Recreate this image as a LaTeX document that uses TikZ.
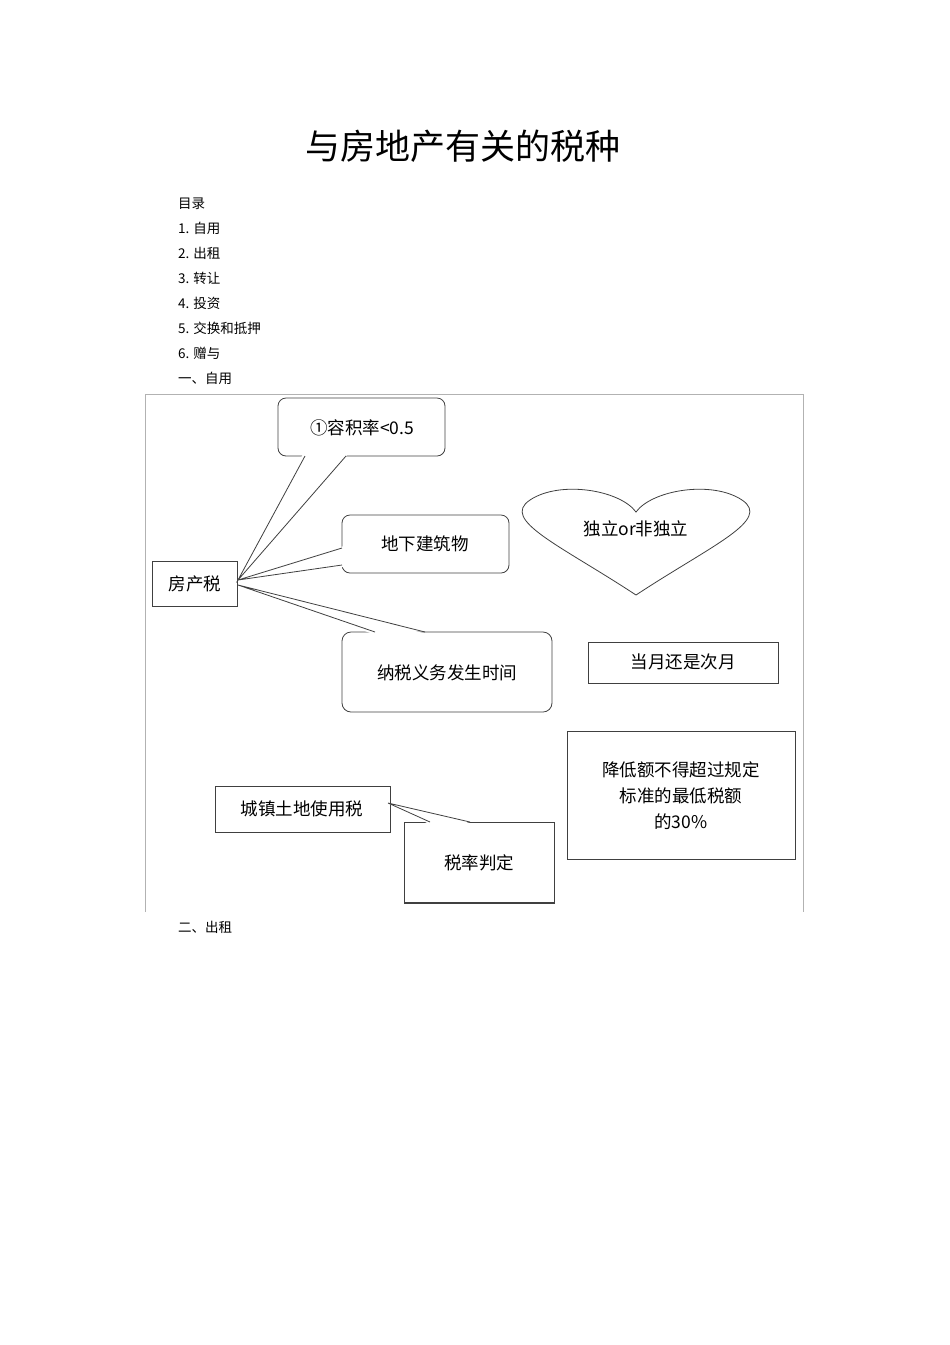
\documentclass[tikz,border=0pt]{standalone}
\usepackage{fontspec}
\setmainfont{Noto Sans CJK SC}
\begin{document}
\begin{tikzpicture}[x=1pt,y=-1pt,
  every node/.style={inner sep=0pt},
  lst/.style={anchor=west,font=\fontsize{13.5}{15}\selectfont},
  dt/.style={font=\fontsize{17.5}{20}\selectfont},
  ln/.style={draw=black!75,line width=0.8pt}]
\useasboundingbox (0,0) rectangle (950,1345);
\node (title) at (463,146) {\fontsize{35}{40}\selectfont 与房地产有关的税种};
\node[lst] (t0) at (178,204) {目录};
\node[lst] (t1) at (178,228) {1. 自用};
\node[lst] (t2) at (178,253) {2. 出租};
\node[lst] (t3) at (178,278) {3. 转让};
\node[lst] (t4) at (178,303) {4. 投资};
\node[lst] (t5) at (178,328) {5. 交换和抵押};
\node[lst] (t6) at (178,353) {6. 赠与};
\node[lst] (t7) at (178,378) {一、自用};
\node[lst] (t8) at (178,927) {二、出租};
% frame
\draw[black!30,line width=0.6pt] (145,912) -- (145,394) -- (803,394) -- (803,912);
% 房产税
\draw[ln] (152,561) rectangle (237,606);
\node[dt] (fcs) at (195,584) {房产税};
\coordinate (tip) at (238,580);
% callout 1
\draw[ln,rounded corners=8pt] (278,398) rectangle (445,456);
\fill[white] (303,454) -- (348,454) -- (tip) -- cycle;
\draw[ln] (305,456) -- (tip) -- (346,456);
\node[dt] (c1) at (362,428) {①容积率<0.5};
% callout 2
\draw[ln,rounded corners=8pt] (342,515) rectangle (509,573);
\fill[white] (344,546) -- (344,567) -- (tip) -- cycle;
\draw[ln] (342,548) -- (tip) -- (342,565);
\node[dt] (c2) at (425,544) {地下建筑物};
% callout 3
\coordinate (tip3) at (238,585);
\draw[ln,rounded corners=9pt] (342,632) rectangle (552,712);
\fill[white] (373,634) -- (427,634) -- (tip3) -- cycle;
\draw[ln] (375,632) -- (tip3) -- (425,632);
\node[dt] (c3) at (447,673) {纳税义务发生时间};
% heart
\draw[ln] (636,595) .. controls (560,545) and (500,520) .. (530,500)
  .. controls (560,480) and (620,490) .. (636,512)
  .. controls (652,490) and (712,480) .. (742,500)
  .. controls (772,520) and (712,545) .. (636,595);
\node[dt] (heart) at (636,529) {独立or非独立};
% 当月
\draw[ln] (588,642) rectangle (778,683);
\node[dt] (dy) at (683,662) {当月还是次月};
% 降低额
\draw[ln] (567,731) rectangle (795,859);
\node[dt,align=center,font=\fontsize{17.5}{26}\selectfont] (jd) at (681,796) {降低额不得超过规定\\标准的最低税额\\的30\%};
% 城镇土地使用税
\draw[ln] (215,786) rectangle (390,832);
\node[dt] (cz) at (302,809) {城镇土地使用税};
\coordinate (tip4) at (388,803);
\draw[ln] (404,822) rectangle (554,903);
\draw[ln,line width=1.6pt] (404,903) -- (554,903);
\fill[white] (428,823.5) -- (472,823.5) -- (tip4) -- cycle;
\draw[ln] (430,822) -- (tip4) -- (470,822);
\node[dt] (sl) at (479,863) {税率判定};
\end{tikzpicture}
\end{document}
